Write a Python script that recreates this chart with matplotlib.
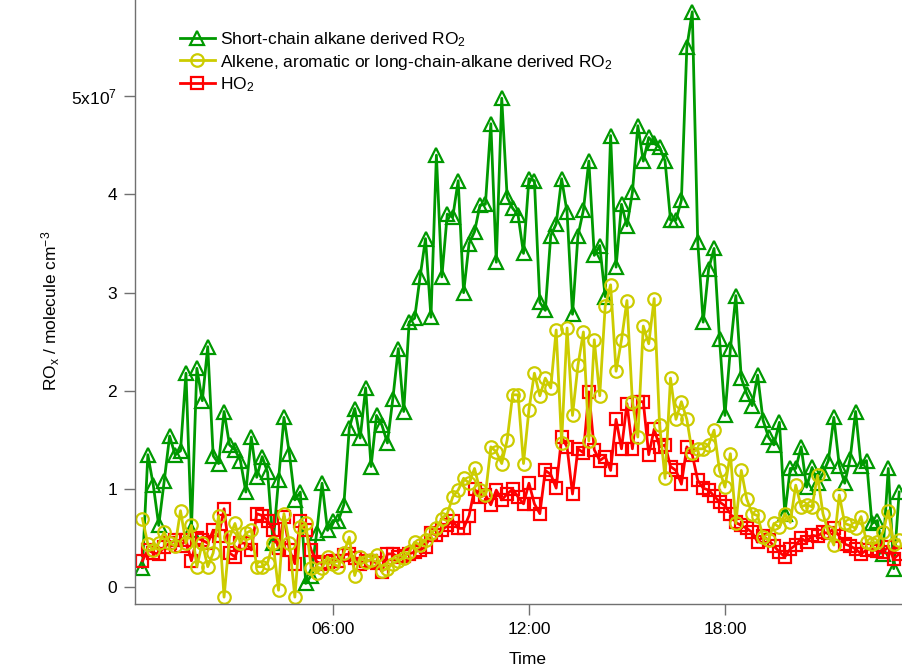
import numpy as np
import matplotlib
matplotlib.use("Agg")
import matplotlib.pyplot as plt

plt.rcParams['font.family'] = ['Liberation Sans', 'DejaVu Sans']
plt.rcParams['mathtext.default'] = 'regular'

# 10-minute data, 00:10 .. 23:20 (values in 1e7 molecule cm-3)
time_h = np.arange(1, 141) / 6.0

short_ro2 = [
    0.20, 1.35, 1.04, 0.63, 1.08, 1.54,
    1.35, 1.39, 2.18, 0.58, 2.23, 1.90,
    2.45, 1.34, 1.26, 1.79, 1.45, 1.40,
    1.29, 0.97, 1.53, 1.12, 1.33, 1.17,
    0.45, 1.09, 1.73, 1.36, 0.89, 0.97,
    0.04, 0.12, 0.55, 1.06, 0.58, 0.68,
    0.68, 0.84, 1.62, 1.82, 1.52, 2.03,
    1.23, 1.75, 1.65, 1.47, 1.92, 2.43,
    1.79, 2.70, 2.74, 3.16, 3.55, 2.75,
    4.40, 3.16, 3.80, 3.77, 4.14, 3.00,
    3.50, 3.62, 3.89, 3.90, 4.72, 3.31,
    4.98, 3.97, 3.86, 3.79, 3.40, 4.16,
    4.14, 2.90, 2.82, 3.58, 3.70, 4.16,
    3.82, 2.78, 3.58, 3.84, 4.34, 3.38,
    3.48, 2.96, 4.60, 3.26, 3.90, 3.68,
    4.02, 4.70, 4.34, 4.58, 4.52, 4.48,
    4.34, 3.74, 3.74, 3.94, 5.50, 5.86,
    3.52, 2.70, 3.24, 3.45, 2.53, 1.75,
    2.43, 2.97, 2.13, 1.97, 1.85, 2.16,
    1.70, 1.53, 1.45, 1.68, 0.75, 1.21,
    1.21, 1.43, 1.02, 1.22, 1.06, 1.16,
    1.29, 1.73, 1.24, 1.06, 1.31, 1.79,
    1.24, 1.29, 0.65, 0.68, 0.34, 1.21,
    0.19, 0.97,
]

long_ro2 = [
    0.70, 0.44, 0.38, 0.45, 0.56, 0.45,
    0.42, 0.78, 0.45, 0.63, 0.21, 0.45,
    0.21, 0.35, 0.73, -0.10, 0.51, 0.65,
    0.45, 0.55, 0.58, 0.21, 0.21, 0.25,
    0.45, -0.03, 0.75, 0.45, -0.10, 0.61,
    0.65, 0.20, 0.15, 0.20, 0.31, 0.24,
    0.21, 0.35, 0.51, 0.12, 0.31, 0.26,
    0.28, 0.33, 0.17, 0.19, 0.24, 0.27,
    0.30, 0.36, 0.46, 0.43, 0.48, 0.55,
    0.60, 0.70, 0.75, 0.92, 0.99, 1.11,
    1.06, 1.21, 0.99, 0.94, 1.43, 1.38,
    1.26, 1.50, 1.96, 1.96, 1.26, 1.81,
    2.18, 1.95, 2.13, 2.03, 2.62, 1.47,
    2.64, 1.75, 2.26, 2.60, 1.49, 2.52,
    1.95, 2.86, 3.08, 2.20, 2.52, 2.92,
    1.89, 1.53, 2.66, 2.48, 2.94, 1.65,
    1.11, 2.13, 1.71, 1.89, 1.71, 1.37,
    1.41, 1.41, 1.45, 1.60, 1.19, 1.02,
    1.36, 0.65, 1.19, 0.90, 0.75, 0.73,
    0.51, 0.48, 0.65, 0.61, 0.75, 0.66,
    1.04, 0.82, 0.84, 0.82, 1.14, 0.75,
    0.56, 0.43, 0.94, 0.65, 0.63, 0.60,
    0.72, 0.46, 0.44, 0.46, 0.56, 0.78,
    0.44, 0.48,
]

ho2 = [
    0.27, 0.38, 0.35, 0.34, 0.41, 0.45,
    0.48, 0.42, 0.48, 0.27, 0.50, 0.48,
    0.45, 0.58, 0.52, 0.80, 0.35, 0.31,
    0.45, 0.45, 0.38, 0.75, 0.73, 0.68,
    0.58, 0.40, 0.72, 0.38, 0.24, 0.68,
    0.58, 0.38, 0.26, 0.24, 0.26, 0.27,
    0.27, 0.33, 0.34, 0.30, 0.24, 0.27,
    0.27, 0.25, 0.16, 0.34, 0.34, 0.31,
    0.32, 0.34, 0.36, 0.38, 0.41, 0.55,
    0.53, 0.58, 0.63, 0.68, 0.60, 0.60,
    0.73, 1.00, 0.92, 0.94, 0.84, 0.99,
    0.89, 0.95, 1.00, 0.92, 0.85, 1.06,
    0.85, 0.75, 1.19, 1.15, 1.01, 1.53,
    1.43, 0.95, 1.41, 1.37, 1.99, 1.40,
    1.29, 1.33, 1.19, 1.71, 1.41, 1.87,
    1.41, 1.89, 1.89, 1.35, 1.61, 1.43,
    1.45, 1.23, 1.19, 1.05, 1.43, 1.35,
    1.09, 1.01, 0.99, 0.93, 0.87, 0.83,
    0.75, 0.66, 0.63, 0.60, 0.56, 0.46,
    0.52, 0.48, 0.42, 0.36, 0.31, 0.39,
    0.43, 0.50, 0.46, 0.53, 0.52, 0.56,
    0.55, 0.60, 0.52, 0.44, 0.42, 0.39,
    0.34, 0.38, 0.39, 0.37, 0.36, 0.41,
    0.29, 0.34,
]

xtick_hours = [6, 12, 18]
xtick_labels = ['06:00', '12:00', '18:00']
ytick_vals = [0, 1e7, 2e7, 3e7, 4e7, 5e7]
ytick_labels = ['0', '1', '2', '3', '4', '5x10$^{7}$']
legend_labels = ['Short-chain alkane derived RO$_2$',
                 'Alkene, aromatic or long-chain-alkane derived RO$_2$',
                 'HO$_2$']

scale = 1e7
fig = plt.figure(figsize=(9.02, 6.67), dpi=100)
ax = fig.add_axes([135 / 902, 63 / 667, 767 / 902, 604 / 667])

style = dict(lw=2.0, mfc='none', mew=1.6)
l1, = ax.plot(time_h, np.array(short_ro2) * scale, color='#009900',
              marker='^', ms=10, **style)
l3, = ax.plot(time_h, np.array(ho2) * scale, color='#ff0000',
              marker='s', ms=9, **style)
l2, = ax.plot(time_h, np.array(long_ro2) * scale, color='#cccc00',
              marker='o', ms=9, **style)

ax.set_xlim(-0.06, 23.42)
ax.set_ylim(-0.17e7, 5.98e7)
ax.set_xticks(xtick_hours)
ax.set_xticklabels(xtick_labels)
ax.set_yticks(ytick_vals)
ax.set_yticklabels(ytick_labels)

for s in ['top', 'right']:
    ax.spines[s].set_visible(False)
for s in ['left', 'bottom']:
    ax.spines[s].set_color('#707070')
    ax.spines[s].set_linewidth(1.0)
ax.tick_params(direction='out', length=8, width=1, color='#707070',
               labelsize=12.5, pad=5)

ax.set_xlabel('Time', fontsize=12.5)
ax.xaxis.set_label_coords((528 - 135) / 767, -48 / 604)
ax.set_ylabel('RO$_x$ / molecule cm$^{-3}$', fontsize=12.5)
ax.yaxis.set_label_coords(-(135 - 62) / 767, (604 - 311) / 604)

ax.legend([l1, l2, l3], legend_labels, loc='upper left',
          bbox_to_anchor=(45 / 767, 1 - 30 / 604), frameon=False,
          fontsize=12.5, numpoints=1, handlelength=2.0, handletextpad=0.3,
          labelspacing=0.22, borderpad=0, borderaxespad=0)

fig.savefig('out.png', dpi=100)
